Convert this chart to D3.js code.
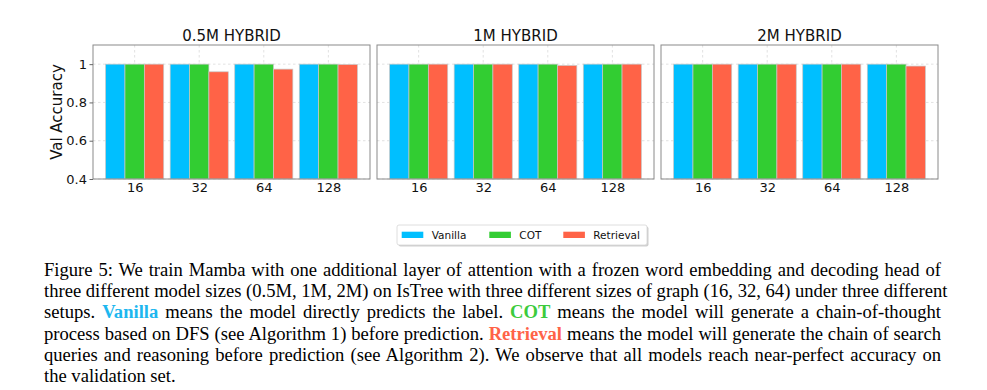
<!DOCTYPE html>
<html lang="en">
<head>
    <meta charset="UTF-8">
    <title>Val Accuracy - Hybrid</title>
    <style>
        body {
            margin: 0;
            background: #fff;
            width: 987px;
            height: 390px;
            position: relative;
            overflow: hidden;
        }
        svg { display: block; }
        svg text {
            font-family: "DejaVu Sans", sans-serif;
        }
        .tick text {
            font-size: 13px;
            fill: #111;
        }
        .grid line {
            stroke: #d9d9d9;
            stroke-width: 0.8px;
            stroke-dasharray: 2.5, 2.5;
        }
        .caption {
            position: absolute;
            left: 44px;
            width: 897px;
            font-family: "Liberation Serif", "Times New Roman", serif;
            font-size: 18.6px;
            line-height: 21px;
            white-space: nowrap;
            text-align: justify;
            text-align-last: justify;
            color: #000;
        }
        .caption.last {
            text-align-last: left;
        }
    </style>
</head>
<body>
    <svg id="chart" width="987" height="250"></svg>

    <script src="https://d3js.org/d3.v7.min.js"></script>
    <script>
        // data
        const panels = ["0.5M HYBRID", "1M HYBRID", "2M HYBRID"];
        const graphSizes = ["16", "32", "64", "128"];
        const setups = ["Vanilla", "COT", "Retrieval"];
        const colors = ["#00bfff", "#32cd32", "#ff6347"];

        // values[panel][graph size]
        const vanilla = [[1, 1, 1, 1], [1, 1, 1, 1], [1, 1, 1, 1]];
        const cot = [[1, 1, 1, 1], [1, 1, 1, 1], [1, 1, 1, 1]];
        const retrieval = [[1, 0.96, 0.974, 0.998], [1, 1, 0.993, 1], [1, 1, 1, 0.99]];
        const yTicks = [0.4, 0.6, 0.8, 1.0];

        const captionLines = [
            [["Figure 5: We train Mamba with one additional layer of attention with a frozen word embedding and decoding head of"]],
            [["three different model sizes (0.5M, 1M, 2M) on IsTree with three different sizes of graph (16, 32, 64) under three different"]],
            [["setups. "], ["Vanilla", 0], [" means the model directly predicts the label. "], ["COT", 1], [" means the model will generate a chain-of-thought"]],
            [["process based on DFS (see Algorithm 1) before prediction. "], ["Retrieval", 2], [" means the model will generate the chain of search"]],
            [["queries and reasoning before prediction (see Algorithm 2). We observe that all models reach near-perfect accuracy on"]],
            [["the validation set."]]
        ];
        const captionColors = ["#1db7ef", "#3ccb3c", "#ff6347"];

        const svg = d3.select("#chart");
        const panelLeft = [93, 377, 661];
        const panelW = 277;
        const plotTop = 45, plotBottom = 179;
        const barW = 0.3;

        const y = d3.scaleLinear().domain([0.4, 1.1]).range([plotBottom, plotTop]);

        panels.forEach((title, p) => {
            const x = d3.scaleLinear()
                .domain([-0.645, 3.645])
                .range([panelLeft[p], panelLeft[p] + panelW]);
            const g = svg.append("g");

            // grid
            const grid = g.append("g").attr("class", "grid");
            grid.selectAll(".hg")
                .data(yTicks)
                .join("line")
                .attr("x1", panelLeft[p]).attr("x2", panelLeft[p] + panelW)
                .attr("y1", d => y(d)).attr("y2", d => y(d));
            grid.selectAll(".vg")
                .data(graphSizes.map((d, i) => i))
                .join("line")
                .attr("x1", d => x(d)).attr("x2", d => x(d))
                .attr("y1", plotTop).attr("y2", plotBottom);

            // bars
            const series = [vanilla[p], cot[p], retrieval[p]];
            series.forEach((vals, s) => {
                g.append("g")
                    .selectAll("rect")
                    .data(vals)
                    .join("rect")
                    .attr("x", (d, i) => x(i + (s - 1) * barW - barW / 2))
                    .attr("width", x(barW) - x(0))
                    .attr("y", d => y(d))
                    .attr("height", d => y(0.4) - y(d))
                    .attr("fill", colors[s])
                    .attr("stroke", "#c8c8c8")
                    .attr("stroke-width", 0.7);
            });

            // frame
            g.append("rect")
                .attr("x", panelLeft[p]).attr("y", plotTop)
                .attr("width", panelW).attr("height", plotBottom - plotTop)
                .attr("fill", "none")
                .attr("stroke", "#8a8a8a")
                .attr("stroke-width", 1);

            // x axis
            const xAxis = d3.axisBottom(x)
                .tickValues(graphSizes.map((d, i) => i))
                .tickFormat(i => graphSizes[i])
                .tickSize(0)
                .tickPadding(4);
            const xa = g.append("g")
                .attr("transform", `translate(0,${plotBottom})`)
                .call(xAxis);
            xa.select(".domain").remove();

            // y axis only on first panel
            if (p === 0) {
                const yAxis = d3.axisLeft(y)
                    .tickValues(yTicks)
                    .tickFormat(d => d === 1 ? "1" : d3.format(".1f")(d))
                    .tickSize(3.5)
                    .tickPadding(2.5);
                const ya = g.append("g")
                    .attr("transform", `translate(${panelLeft[p]},0)`)
                    .call(yAxis);
                ya.select(".domain").remove();
                ya.selectAll("line").attr("stroke", "#666");

                svg.append("text")
                    .attr("transform", `translate(62,${(plotTop + plotBottom) / 2}) rotate(-90)`)
                    .attr("text-anchor", "middle")
                    .style("font-size", "15px")
                    .attr("fill", "#111")
                    .text("Val Accuracy");
            }

            // title
            svg.append("text")
                .attr("x", panelLeft[p] + panelW / 2)
                .attr("y", 41)
                .attr("text-anchor", "middle")
                .style("font-size", "15px")
                .attr("fill", "#111")
                .text(title);
        });

        // legend
        const legend = svg.append("g").attr("transform", "translate(397,225)");
        legend.append("rect")
            .attr("x", 1.5).attr("y", 1.5)
            .attr("width", 250).attr("height", 20)
            .attr("rx", 2)
            .attr("fill", "#cfcfcf");
        legend.append("rect")
            .attr("width", 250).attr("height", 20)
            .attr("rx", 2)
            .attr("fill", "#fff")
            .attr("stroke", "#d6d6d6")
            .attr("stroke-width", 0.8);
        const legendX = [4.7, 92.3, 166.3];
        const item = legend.selectAll(".item")
            .data(setups)
            .join("g")
            .attr("transform", (d, i) => `translate(${legendX[i]},0)`);
        item.append("rect")
            .attr("y", 6.7).attr("width", 21.6).attr("height", 6.3)
            .attr("fill", (d, i) => colors[i]);
        item.append("text")
            .attr("x", 30).attr("y", 13.5)
            .style("font-size", "10.5px")
            .attr("fill", "#111")
            .text(d => d);

        // caption
        const lineTops = [259, 280.2, 301.4, 322.6, 343.8, 365];
        captionLines.forEach((parts, i) => {
            const div = d3.select("body").append("div")
                .attr("class", "caption" + (i === captionLines.length - 1 ? " last" : ""))
                .style("top", lineTops[i] + "px");
            parts.forEach(part => {
                const span = div.append("span").text(part[0]);
                if (part.length > 1) {
                    span.style("font-weight", "bold").style("color", captionColors[part[1]]);
                }
            });
        });
    </script>
</body>
</html>
